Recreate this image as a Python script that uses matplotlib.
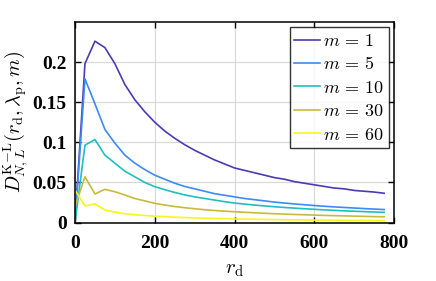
import numpy as np
import matplotlib
matplotlib.use("Agg")
import matplotlib.pyplot as plt

# r_d sampled every 25
r_d = np.arange(0, 800, 25)

# values
d_m1 = [0.0, 0.198, 0.226, 0.218, 0.198, 0.172, 0.153, 0.138, 0.125, 0.114,
        0.105, 0.097, 0.090, 0.084, 0.078, 0.073, 0.068, 0.065, 0.062, 0.059,
        0.056, 0.054, 0.051, 0.049, 0.047, 0.045, 0.043, 0.042, 0.040, 0.039,
        0.038, 0.0365]
d_m5 = [0.0, 0.179, 0.148, 0.116, 0.099, 0.084, 0.074, 0.066, 0.059, 0.054,
        0.049, 0.045, 0.042, 0.039, 0.036, 0.034, 0.032, 0.030, 0.0285, 0.027,
        0.0255, 0.0243, 0.0232, 0.0222, 0.0212, 0.0203, 0.0195, 0.0188, 0.0181,
        0.0174, 0.0168, 0.0162]
d_m10 = [0.0, 0.0964, 0.1034, 0.084, 0.074, 0.064, 0.057, 0.050, 0.0447, 0.041,
         0.0375, 0.0345, 0.032, 0.030, 0.028, 0.026, 0.0243, 0.023, 0.0218, 0.0207,
         0.0197, 0.0188, 0.018, 0.0172, 0.0165, 0.0158, 0.0152, 0.0146, 0.0141,
         0.0136, 0.0131, 0.0127]
d_m30 = [0.0198, 0.057, 0.0356, 0.0414, 0.0384, 0.0343, 0.030, 0.027, 0.024, 0.0218,
         0.020, 0.0185, 0.0172, 0.016, 0.015, 0.0142, 0.0135, 0.0128, 0.0122, 0.0116,
         0.011, 0.0105, 0.0101, 0.0097, 0.0093, 0.0089, 0.0086, 0.0083, 0.008,
         0.0077, 0.0074, 0.0072]
d_m60 = [0.0405, 0.0207, 0.0232, 0.0157, 0.013, 0.011, 0.0097, 0.0088, 0.008, 0.0073,
         0.0067, 0.0062, 0.0058, 0.0054, 0.0051, 0.0048, 0.0045, 0.0043, 0.0041, 0.0039,
         0.0037, 0.0035, 0.0034, 0.0033, 0.0031, 0.003, 0.0029, 0.0028, 0.0027,
         0.0026, 0.0025, 0.0024]

series = [d_m1, d_m5, d_m10, d_m30, d_m60]
labels = ["$m\\,=\\,1$", "$m\\,=\\,5$", "$m\\,=\\,10$", "$m\\,=\\,30$", "$m\\,=\\,60$"]
colors = ["#4a3bb5", "#3d8af5", "#1fbfbf", "#c8ba3c", "#f7f71a"]

x_ticks = [0, 200, 400, 600, 800]
y_ticks = [0, 0.05, 0.1, 0.15, 0.2]
y_tick_labels = ["0", "0.05", "0.1", "0.15", "0.2"]

plt.rcParams["mathtext.fontset"] = "cm"

fig = plt.figure(figsize=(4.36, 2.81), dpi=100)
ax = fig.add_axes([0.172, 0.208, 0.732, 0.714])

for y, lab, c in zip(series, labels, colors):
    ax.plot(r_d, y, color=c, lw=1.2, label=lab)

ax.set_xlim(0, 800)
ax.set_ylim(0, 0.25)
ax.set_xticks(x_ticks)
ax.set_yticks(y_ticks)
ax.set_xticklabels([str(t) for t in x_ticks])
ax.set_yticklabels(y_tick_labels)
for t in ax.get_xticklabels() + ax.get_yticklabels():
    t.set_fontfamily("Liberation Serif")
    t.set_fontweight("bold")
    t.set_fontsize(14)
ax.tick_params(direction="in", length=4, width=1, top=True, right=True)
ax.tick_params(axis="x", pad=9)
ax.tick_params(axis="y", pad=6)
ax.grid(True, color="#d9d9d9", lw=0.9)
ax.set_axisbelow(True)
for s in ax.spines.values():
    s.set_linewidth(1.1)

ax.set_xlabel("$r_{\\mathrm{d}}$", fontsize=15, labelpad=5)
ax.set_ylabel("$D^{\\mathrm{K}\\!-\\!\\mathrm{L}}_{N,L}(r_{\\mathrm{d}},\\lambda_{\\mathrm{p}},m)$",
              fontsize=14.5, labelpad=1)

leg = ax.legend(loc="upper right", fontsize=13, frameon=True, fancybox=False,
                edgecolor="black", handlelength=1.4, handletextpad=0.2,
                labelspacing=0.3, borderpad=0.25, borderaxespad=0.3)
leg.get_frame().set_linewidth(1.0)

fig.savefig("out.png", dpi=100)
